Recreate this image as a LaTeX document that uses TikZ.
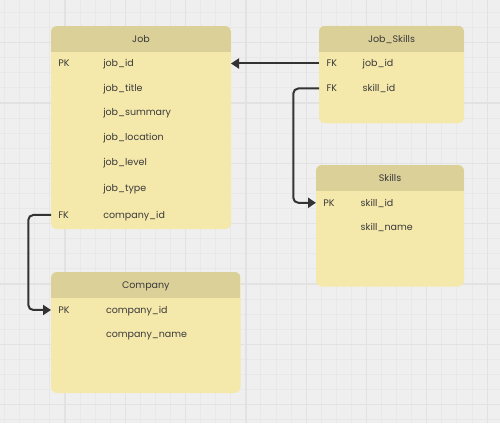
\documentclass[tikz,border=0pt]{standalone}
\usepackage{fontspec}
\setmainfont{Poppins}
\usetikzlibrary{arrows.meta}
\definecolor{bgc}{HTML}{EFEFEF}
\definecolor{gridminor}{HTML}{E8E8E8}
\definecolor{gridmajor}{HTML}{E2E2E2}
\definecolor{bodyc}{HTML}{F5E8AB}
\definecolor{headc}{HTML}{DCD099}
\definecolor{ink}{HTML}{3A3A3A}
\definecolor{linec}{HTML}{333333}
\tikzset{
  tbl/.style={rectangle, rounded corners=6pt, fill=bodyc, draw=none, inner sep=0pt, outer sep=0pt},
  fld/.style={anchor=base west, inner sep=0pt, outer sep=0pt, text=ink, font=\fontsize{9.5}{11}\selectfont},
  ttl/.style={anchor=base, inner sep=0pt, outer sep=0pt, text=ink, font=\fontsize{9.5}{11}\selectfont},
  conn/.style={draw=linec, line width=2pt, rounded corners=5pt, -{Triangle[length=8pt,width=10pt]}},
}
\newcommand{\headerbar}[1]{%
  \begin{scope}
    \clip[rounded corners=6pt] (#1.south west) rectangle (#1.north east);
    \fill[headc] (#1.north west) rectangle ([yshift=-26pt]#1.north east);
  \end{scope}}
\begin{document}
\begin{tikzpicture}[x=1pt,y=-1pt]
\useasboundingbox (0,0) rectangle (500,423);
\fill[bgc] (0,0) rectangle (500,423);
% grid
\foreach \i in {0,...,33} {
  \draw[gridminor, line width=0.8pt] ({4.6+\i*15.075},0) -- ({4.6+\i*15.075},423);
}
\foreach \i in {0,...,28} {
  \draw[gridminor, line width=0.8pt] (0,{12.5+\i*15.075}) -- (500,{12.5+\i*15.075});
}
\foreach \i in {0,...,7} {
  \draw[gridmajor, line width=1.2pt] ({65+\i*60.3},0) -- ({65+\i*60.3},423);
}
\foreach \i in {-1,...,6} {
  \draw[gridmajor, line width=1.2pt] (0,{42.7+\i*60.3}) -- (500,{42.7+\i*60.3});
}

% Job table
\node[tbl, minimum width=180pt, minimum height=203pt] (job) at (141,127.5) {};
\headerbar{job}
\node[ttl] (jobt) at (141,42.5) {Job};
\node[fld] (jobpk) at (58.3,66.8) {PK};
\node[fld] (jobf1) at (103.3,66.8) {job\_id};
\node[fld] (jobf2) at (103.3,91.8) {job\_title};
\node[fld] (jobf3) at (103.3,115.8) {job\_summary};
\node[fld] (jobf4) at (103.3,140) {job\_location};
\node[fld] (jobf5) at (103.3,165) {job\_level};
\node[fld] (jobf6) at (103.3,191.6) {job\_type};
\node[fld] (jobfk) at (58.3,218.3) {FK};
\node[fld] (jobf7) at (103.3,218.3) {company\_id};

% Job_Skills table
\node[tbl, minimum width=145pt, minimum height=97.5pt] (js) at (391.5,74.5) {};
\headerbar{js}
\node[ttl] (jst) at (391.5,42.3) {Job\_Skills};
\node[fld] (jsfk1) at (326.7,66.8) {FK};
\node[fld] (jsf1) at (362.7,66.8) {job\_id};
\node[fld] (jsfk2) at (326.7,91.8) {FK};
\node[fld] (jsf2) at (362.7,91.8) {skill\_id};

% Skills table
\node[tbl, minimum width=148pt, minimum height=121.5pt] (sk) at (390,225.8) {};
\headerbar{sk}
\node[ttl] (skt) at (390,181) {Skills};
\node[fld] (skpk) at (323.3,206.1) {PK};
\node[fld] (skf1) at (360.7,206.1) {skill\_id};
\node[fld] (skf2) at (360.7,230.6) {skill\_name};

% Company table
\node[tbl, minimum width=189.5pt, minimum height=121pt] (co) at (145.8,332.5) {};
\headerbar{co}
\node[ttl] (cot) at (145.8,288.6) {Company};
\node[fld] (copk) at (58.3,313.3) {PK};
\node[fld] (cof1) at (106,313.3) {company\_id};
\node[fld] (cof2) at (106,337.6) {company\_name};

% connectors
\draw[conn] (js.west |- jsfk1) -- (job.east |- jsfk1);
\draw[conn] (js.west |- jsfk2) -- ++(-25.7,0) |- (sk.west |- skpk);
\draw[conn] (job.west |- jobfk) -- ++(-22.7,0) |- (co.west |- copk);
\end{tikzpicture}
\end{document}
